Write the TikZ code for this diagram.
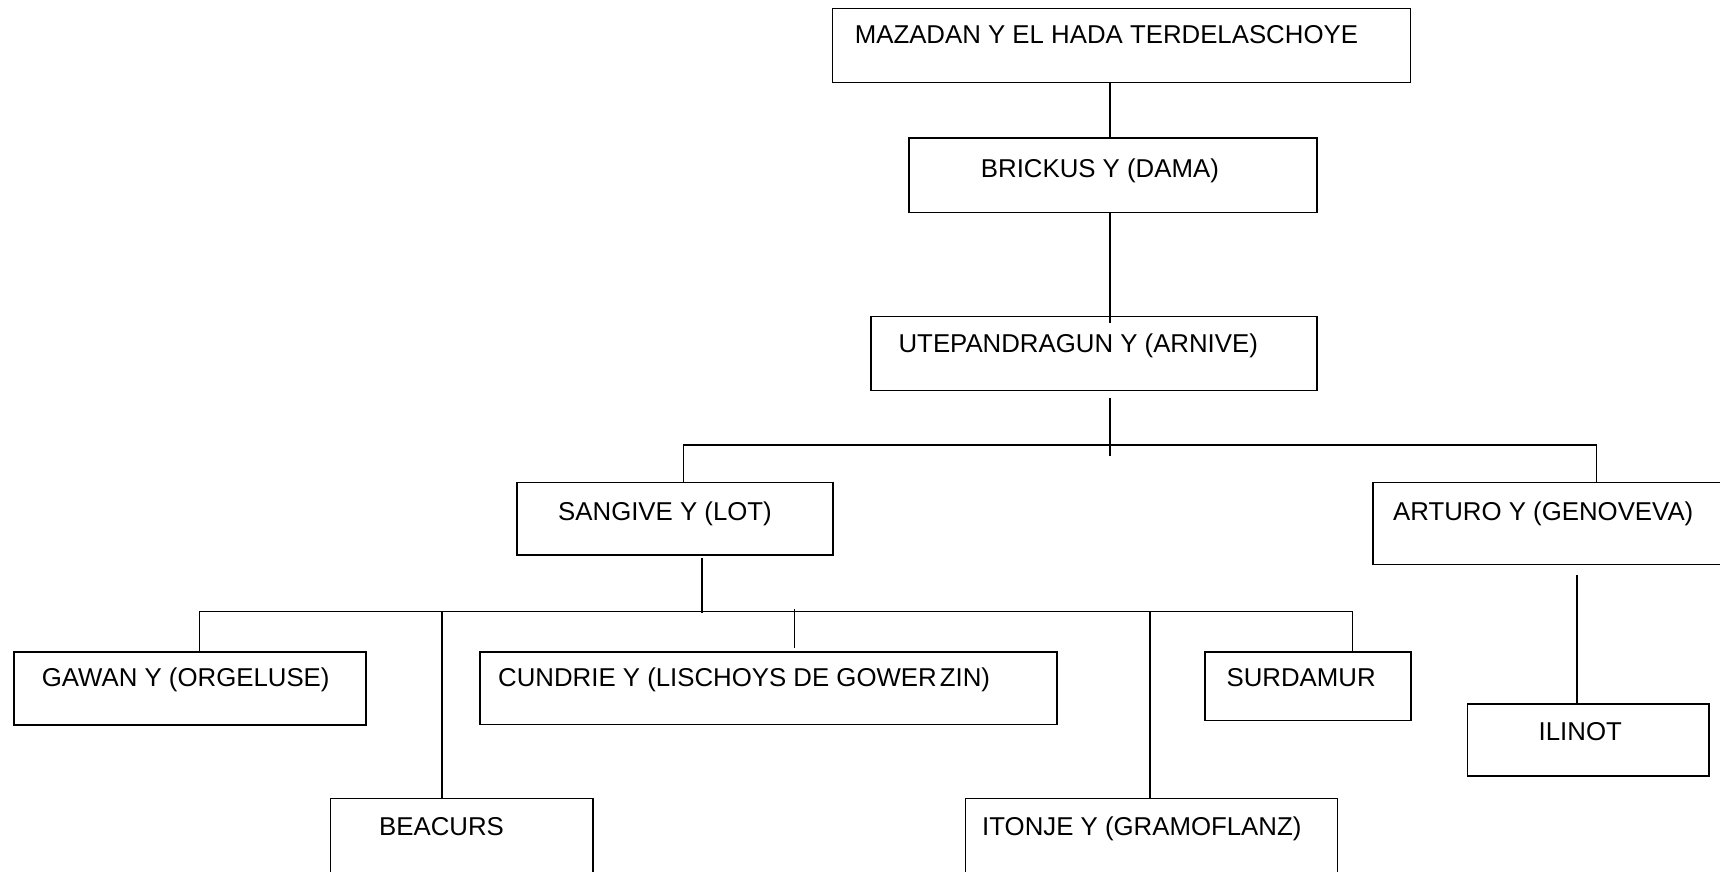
\documentclass[tikz,border=0pt]{standalone}
\usepackage{fontspec}
\setmainfont{Liberation Sans}
\usetikzlibrary{calc}

\begin{document}
\begin{tikzpicture}[x=1pt, y=-1pt,
  caja/.style={draw, line width=1.6pt, anchor=north west, inner sep=0pt},
  rotulo/.style={anchor=base west, inner sep=0pt, font=\fontsize{25.8}{30}\selectfont},
  linea/.style={line width=1.4pt}]
\clip (0,0) rectangle (1720,871);
\node[caja, minimum width=578pt, minimum height=74pt] (mazadan) at (831.5,7.5) {};
\node[caja, minimum width=408pt, minimum height=74.5pt] (brickus) at (908,137) {};
\node[caja, minimum width=446pt, minimum height=74pt] (ute) at (870,315.5) {};
\node[caja, minimum width=316pt, minimum height=72.3pt] (sangive) at (516,481.7) {};
\node[caja, minimum width=358pt, minimum height=82pt] (arturo) at (1372,481.7) {};
\node[caja, minimum width=352pt, minimum height=73pt] (gawan) at (13.2,651) {};
\node[caja, minimum width=576.6pt, minimum height=72.5pt] (cundrie) at (479.4,651) {};
\node[caja, minimum width=206pt, minimum height=68.5pt] (surdamur) at (1204,651) {};
\node[caja, minimum width=241.5pt, minimum height=71.7pt] (ilinot) at (1466.5,703.3) {};
\node[caja, minimum width=262.5pt, minimum height=90pt] (beacurs) at (329.5,797.7) {};
\node[caja, minimum width=372pt, minimum height=90pt] (itonje) at (964.5,797.7) {};

\node[rotulo] (t-mazadan) at ($(mazadan.north west)+(23.1,36)$) {MAZADAN Y EL HADA TERDELASCHOYE};
\node[rotulo] (t-brickus) at ($(brickus.north west)+(72.7,40)$) {BRICKUS Y (DAMA)};
\node[rotulo] (t-ute) at ($(ute.north west)+(28.4,36.8)$) {UTEPANDRAGUN Y (ARNIVE)};
\node[rotulo] (t-sangive) at ($(sangive.north west)+(42,38.3)$) {SANGIVE Y (LOT)};
\node[rotulo] (t-arturo) at ($(arturo.north west)+(21,38.3)$) {ARTURO Y (GENOVEVA)};
\node[rotulo] (t-gawan) at ($(gawan.north west)+(28.5,35)$) {GAWAN Y (ORGELUSE)};
\node[rotulo] (t-cundrie) at ($(cundrie.north west)+(18.6,35)$) {CUNDRIE Y (LISCHOYS DE GOWER\kern3pt ZIN)};
\node[rotulo] (t-surdamur) at ($(surdamur.north west)+(22.4,35)$) {SURDAMUR};
\node[rotulo] (t-ilinot) at ($(ilinot.north west)+(72,36.7)$) {ILINOT};
\node[rotulo] (t-beacurs) at ($(beacurs.north west)+(49.5,37.3)$) {BEACURS};
\node[rotulo] (t-itonje) at ($(itonje.north west)+(17.5,37.3)$) {ITONJE Y (GRAMOFLANZ)};

\draw[linea] ($(mazadan.south west)+(278.5,0)$) -- ($(brickus.north west)+(202,0)$);
\draw[linea] ($(brickus.south west)+(202,0)$) -- ($(ute.north west)+(240,7.8)$);
\draw[linea] ($(ute.south west)+(240,7.2)$) -- ++(0,57.3);
\draw[linea] ($(sangive.north west)+(167.4,0)$) -- ++(0,-36.7) -| ($(arturo.north west)+(224.5,0)$);
\draw[linea] ($(sangive.south west)+(186,2.7)$) -- ++(0,55);
\draw[linea] ($(gawan.north west)+(186.5,0)$) |- ($(surdamur.north west)+(148.5,-39.3)$) -- ($(surdamur.north west)+(148.5,0)$);
\draw[linea] ($(beacurs.north west)+(112.5,0)$) -- ++(0,-186);
\draw[linea] ($(itonje.north west)+(185.5,0)$) -- ++(0,-186);
\draw[linea] ($(cundrie.north west)+(315,-2.7)$) -- ++(0,-39.3);
\draw[linea] ($(ilinot.north west)+(110.3,0)$) -- ($(arturo.south west)+(204.8,9.6)$);
\end{tikzpicture}
\end{document}
